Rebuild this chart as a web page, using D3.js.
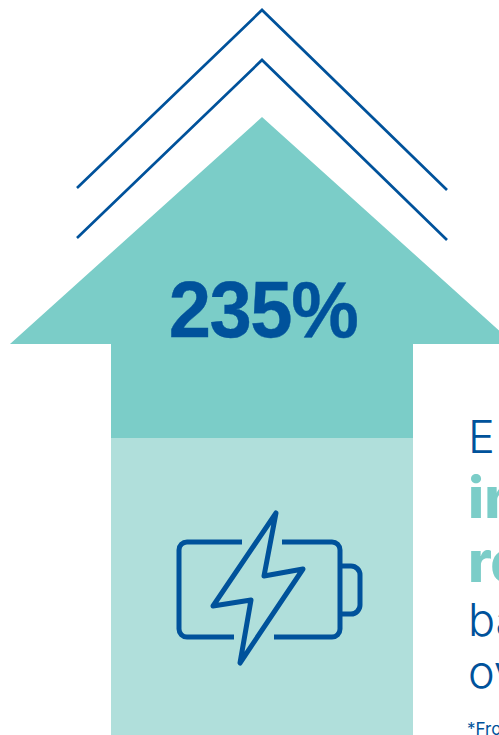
<!DOCTYPE html>
<html>
<head>
<meta charset="utf-8">
<script src="https://cdn.jsdelivr.net/npm/d3@7"></script>
<style>
html,body{margin:0;padding:0;background:#fff;overflow:hidden}
svg{display:block}
text{font-family:Inter,"Noto Sans",sans-serif}
</style>
</head>
<body>
<svg id="chart" width="499" height="735"></svg>
<script>
// Growth figure and the baseline it is compared with
const baselineValue = 100;
const growthValue = 235;
const growthLabel = "235%";
const bodyLines = ["En", "in", "re", "ba", "ov"];
const emphasisLines = ["in", "re"];
const footnote = "*Fro";

const W = 499, H = 735;
const blue = "#00529b", teal = "#7bcdc8", tealLight = "#b0dfdb";
const svg = d3.select("#chart");

// Vertical scale: the baseline sits where the tones change, the tip marks the growth value
const y = d3.scaleLinear().domain([baselineValue, growthValue]).range([438, 117]);
const cx = 262, shaftHalf = 151, headHalf = 252, shoulderY = 344;
const line = d3.line();

// Light part of the shaft, up to the baseline
svg.append("rect")
  .attr("x", cx - shaftHalf).attr("y", y(baselineValue))
  .attr("width", shaftHalf * 2).attr("height", H - y(baselineValue))
  .attr("fill", tealLight);

// Darker arrow head and upper shaft, up to the growth value
svg.append("path")
  .attr("d", line([
    [cx - shaftHalf, y(baselineValue)], [cx - shaftHalf, shoulderY],
    [cx - headHalf, shoulderY], [cx, y(growthValue)], [cx + headHalf, shoulderY],
    [cx + shaftHalf, shoulderY], [cx + shaftHalf, y(baselineValue)]
  ]) + "Z")
  .attr("fill", teal);

// Two chevrons above the tip
[10, 60].forEach(top => {
  svg.append("path")
    .attr("d", line([[77, top + 178], [cx, top], [447, top + 180]]))
    .attr("fill", "none").attr("stroke", blue).attr("stroke-width", 2.7);
});

// Headline figure, slightly condensed
svg.append("text")
  .attr("transform", "translate(263,337) scale(0.95,1)")
  .attr("text-anchor", "middle")
  .style("font-family", "'Liberation Sans', sans-serif")
  .attr("font-size", 80).attr("font-weight", 700)
  .attr("letter-spacing", -1.5)
  .attr("stroke", blue).attr("stroke-width", 0.4)
  .attr("fill", blue)
  .text(growthLabel);

// Battery icon with a lightning bolt
const icon = svg.append("g")
  .attr("fill", "none").attr("stroke", blue).attr("stroke-width", 5)
  .attr("stroke-linejoin", "round");
icon.append("path").attr("d", "M242 542H187a8 8 0 0 0-8 8V629a8 8 0 0 0 8 8H234");
icon.append("path").attr("d", "M282 542H332a8 8 0 0 1 8 8V629a8 8 0 0 1-8 8H274");
icon.append("path").attr("d", "M340 566H351a9 9 0 0 1 9 9V605a9 9 0 0 1-9 9H340");
icon.append("path")
  .attr("d", line([[276, 513], [264, 576], [303, 569], [240, 663], [251, 600], [213, 606]]) + "Z")
  .attr("stroke-linecap", "round");

// Text column, running off the right edge
const baselines = [453, 518, 582, 636, 688];
svg.selectAll("text.body").data(bodyLines).join("text")
  .attr("class", "body")
  .attr("x", 468)
  .attr("y", (d, i) => baselines[i])
  .attr("font-size", d => emphasisLines.includes(d) ? 57 : 45)
  .attr("font-weight", d => emphasisLines.includes(d) ? 800 : 300)
  .attr("letter-spacing", (d, i) => i === 0 ? 3 : 0)
  .attr("fill", d => emphasisLines.includes(d) ? teal : blue)
  .text(d => d);

svg.append("text")
  .attr("x", 467).attr("y", 735)
  .attr("font-size", 17).attr("fill", blue)
  .text(footnote);
</script>
</body>
</html>
